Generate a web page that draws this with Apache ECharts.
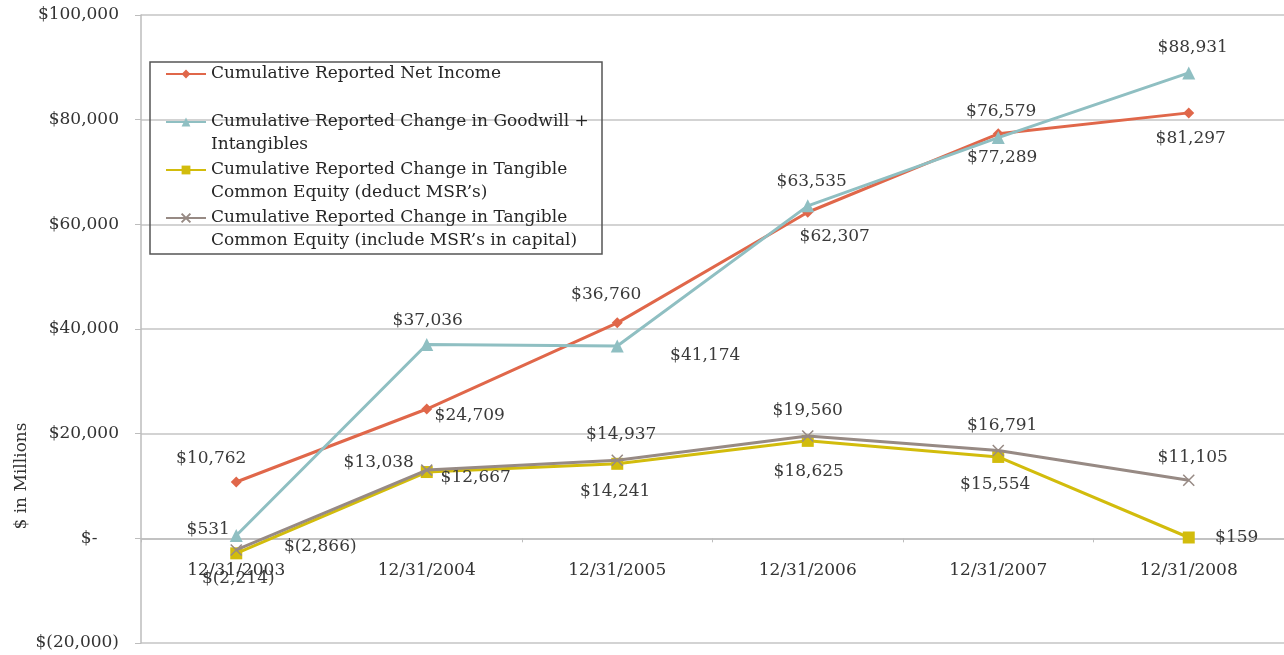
<!DOCTYPE html>
<html><head><meta charset="utf-8">
<script src="https://cdn.jsdelivr.net/npm/echarts@6/dist/echarts.min.js"></script>
<style>html,body{margin:0;padding:0;background:#fff}#c{width:1284px;height:655px}</style>
</head><body><div id="c"></div>
<script>
// ---- data ----
const categories = ['12/31/2003', '12/31/2004', '12/31/2005', '12/31/2006', '12/31/2007', '12/31/2008'];
const seriesNames = [
  'Cumulative Reported Net Income',
  'Cumulative Reported Change in Goodwill + Intangibles',
  'Cumulative Reported Change in Tangible Common Equity (deduct MSR\u2019s)',
  'Cumulative Reported Change in Tangible Common Equity (include MSR\u2019s in capital)'
];
const legendLines = [
  ['Cumulative Reported Net Income'],
  ['Cumulative Reported Change in Goodwill +', 'Intangibles'],
  ['Cumulative Reported Change in Tangible', 'Common Equity (deduct MSR\u2019s)'],
  ['Cumulative Reported Change in Tangible', 'Common Equity (include MSR\u2019s in capital)']
];
const netIncome  = [10762, 24709, 41174, 62307, 77289, 81297];
const goodwill   = [531, 37036, 36760, 63535, 76579, 88931];
const tceDeduct  = [-2866, 12667, 14241, 18625, 15554, 159];
const tceInclude = [-2214, 13038, 14937, 19560, 16791, 11105];
const yMin = -20000, yMax = 100000, yStep = 20000;
const yAxisTitle = '$ in Millions';

// ---- label placement (offsets of label centre from the point) ----
const offNet  = [[-25,-23],[43,7],[88,33],[27,24],[4,24],[2,26]];
const offGw   = [[-28,-6],[1,-24],[-11,-51],[4,-24],[3,-26],[4,-25]];
const offDed  = [[84,-7],[49,6],[-2,28],[1,31],[-3,28],[48,0]];
const offInc  = [[2,29],[-48,-8],[4,-26],[0,-25],[4,-25],[4,-23]];

const colors = ['#E0674A', '#8FBFC2', '#D2BC0C', '#978A84'];
const FONT = 'DejaVu Serif';

const GRID_TOP = 15, GRID_H = 628;

function fmt(v) {
  if (v === 0) return '$-    ';
  const s = Math.abs(v).toLocaleString('en-US');
  return v < 0 ? '$(' + s + ')' : '$' + s;
}

function makeData(vals, offs) {
  return vals.map((v, i) => ({
    value: v,
    label: { position: 'inside', offset: offs[i] }
  }));
}

const xSymbol = 'path://M0,0L10,10M10,0L0,10';

function mkSeries(idx, vals, offs, symbol, size, extraItem) {
  return {
    name: seriesNames[idx],
    type: 'line',
    data: makeData(vals, offs),
    symbol: symbol,
    symbolSize: size,
    showAllSymbol: true,
    z: 2 + idx,
    lineStyle: { color: colors[idx], width: 3 },
    itemStyle: Object.assign({ color: colors[idx] }, extraItem || {}),
    label: {
      show: true,
      formatter: p => fmt(p.value),
      fontFamily: FONT, fontSize: 17, color: '#3a3a3a',
      align: 'center', verticalAlign: 'middle'
    },
    emphasis: { disabled: true }
  };
}

// offset that moves the category axis from the grid bottom up to the zero line
const zeroOffset = -GRID_H * (0 - yMin) / (yMax - yMin);

const chart = echarts.init(document.getElementById('c'), null, { renderer: 'canvas' });
chart.setOption({
  animation: false,
  backgroundColor: '#ffffff',
  grid: { left: 141, top: GRID_TOP, width: 1143, height: GRID_H, containLabel: false, outerBoundsMode: 'none' },
  legend: {
    orient: 'vertical',
    left: 165, top: 39.5, padding: 0,
    itemWidth: 40, itemHeight: 11, itemGap: -21,
    data: seriesNames,
    formatter: function (name) {
      const lines = legendLines[seriesNames.indexOf(name)];
      return '\n' + lines.join('\n') + (lines.length === 1 ? '\n' : '');
    },
    textStyle: { fontFamily: FONT, fontSize: 17, color: '#262626', lineHeight: 23 }
  },
  graphic: [
    { type: 'rect', shape: { x: 150, y: 62, width: 452, height: 192 },
      style: { fill: 'none', stroke: '#555555', lineWidth: 1.5 }, z: 100 },
    { type: 'text', x: 22, y: 476, rotation: Math.PI / 2,
      style: { text: yAxisTitle, fontFamily: FONT, fontSize: 17, fill: '#333333',
               align: 'center', verticalAlign: 'middle' } }
  ],
  xAxis: {
    type: 'category',
    data: categories,
    boundaryGap: true,
    position: 'bottom',
    offset: zeroOffset,
    axisLine: { onZero: false, lineStyle: { color: '#bdbdbd', width: 1.5 } },
    axisTick: { show: true, length: 4, lineStyle: { color: '#bdbdbd' } },
    axisLabel: { margin: 24, fontFamily: FONT, fontSize: 17, color: '#333333' },
    splitLine: { show: false }
  },
  yAxis: {
    type: 'value',
    min: yMin, max: yMax, interval: yStep,
    axisLine: { show: true, lineStyle: { color: '#bdbdbd', width: 1.5 } },
    axisTick: { show: true, length: 6, inside: false, lineStyle: { color: '#bdbdbd' } },
    axisLabel: { margin: 22, fontFamily: FONT, fontSize: 17, color: '#333333', formatter: fmt },
    splitLine: { show: true, lineStyle: { color: '#c4c4c4', width: 1.5 } }
  },
  series: [
    mkSeries(0, netIncome, offNet, 'diamond', 11),
    mkSeries(1, goodwill, offGw, 'triangle', 13),
    mkSeries(2, tceDeduct, offDed, 'rect', 12),
    mkSeries(3, tceInclude, offInc, xSymbol, 11, { borderColor: colors[3], borderWidth: 1.5 })
  ]
});
</script>
</body></html>
